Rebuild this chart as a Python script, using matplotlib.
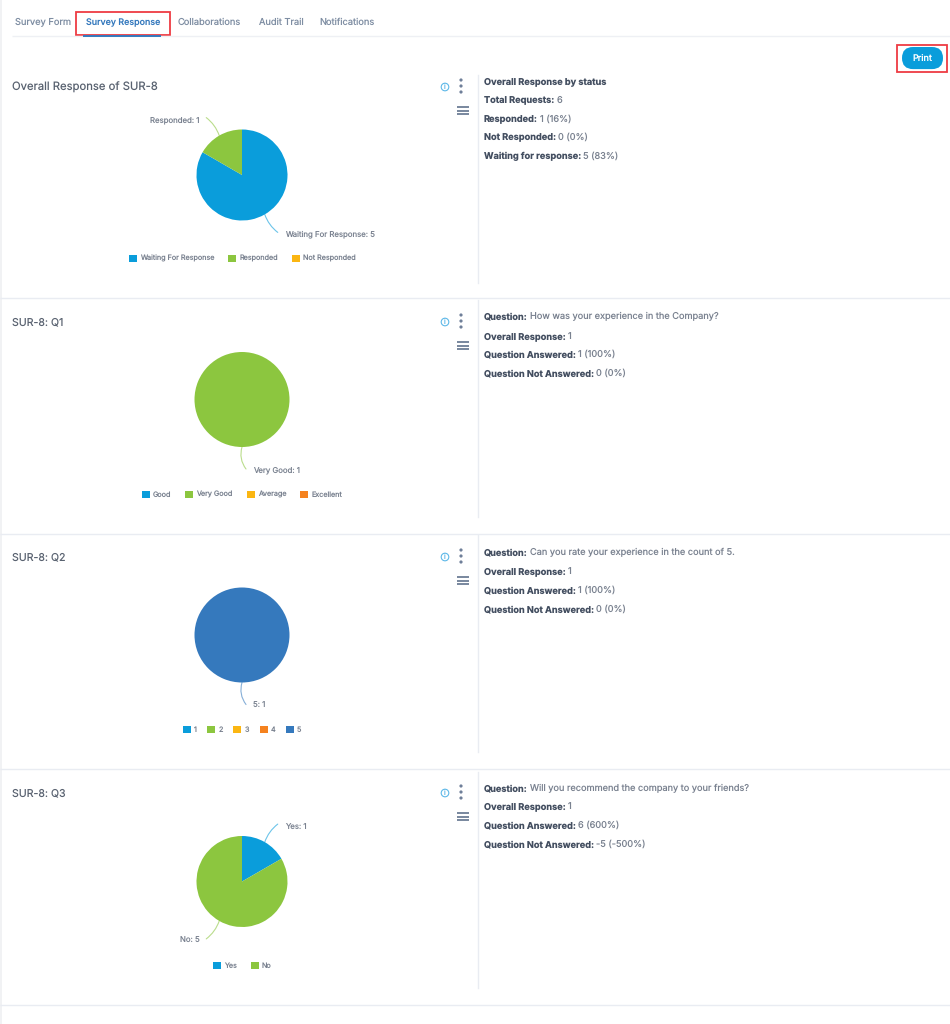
import matplotlib
matplotlib.use('Agg')
import matplotlib.pyplot as plt
import numpy as np
from matplotlib.patches import Rectangle, Circle, FancyBboxPatch

plt.rcParams['font.family'] = ['Inter', 'DejaVu Sans']
plt.rcParams['text.hinting'] = 'no_hinting'
plt.rcParams['text.hinting_factor'] = 1

W, H = 950, 1024
PX = 0.72  # one pixel in points at dpi 100

BLUE = '#0a9ddb'
GREEN = '#8cc63f'
YELLOW = '#fbb612'
ORANGE = '#f5821f'
STEEL = '#3579bd'
RED = '#ee3b43'
DARK = '#434e60'
GREY = '#7a8290'
TAB_GREY = '#7f8ea3'
LINE = '#e9ecf2'

tabs = ['Survey Form', 'Survey Response', 'Collaborations', 'Audit Trail', 'Notifications']
tab_x = [15, 86, 178, 259, 319]

titles = ['Overall Response of SUR-8', 'SUR-8: Q1', 'SUR-8: Q2', 'SUR-8: Q3']

overall_labels = ['Waiting For Response', 'Responded', 'Not Responded']
overall_values = [5, 1, 0]
q1_labels = ['Good', 'Very Good', 'Average', 'Excellent']
q1_values = [0, 1, 0, 0]
q2_labels = ['1', '2', '3', '4', '5']
q2_values = [0, 0, 0, 0, 1]
q3_labels = ['Yes', 'No']
q3_values = [1, 5]

overall_stats = [('Overall Response by status', ''), ('Total Requests:', '6'), ('Responded:', '1 (16%)'),
                 ('Not Responded:', '0 (0%)'), ('Waiting for response:', '5 (83%)')]
q1_stats = [('Question:', 'How was your experience in the Company?'), ('Overall Response:', '1'),
            ('Question Answered:', '1 (100%)'), ('Question Not Answered:', '0 (0%)')]
q2_stats = [('Question:', 'Can you rate your experience in the count of 5.'), ('Overall Response:', '1'),
            ('Question Answered:', '1 (100%)'), ('Question Not Answered:', '0 (0%)')]
q3_stats = [('Question:', 'Will you recommend the company to your friends?'), ('Overall Response:', '1'),
            ('Question Answered:', '6 (600%)'), ('Question Not Answered:', '-5 (-500%)')]

palette = [BLUE, GREEN, YELLOW, ORANGE, STEEL]

fig = plt.figure(figsize=(W / 100, H / 100), dpi=100)
canvas = fig.add_axes([0, 0, 1, 1])
canvas.set_xlim(0, W)
canvas.set_ylim(H, 0)
canvas.axis('off')


def hline(y, x0=0, x1=W, color=LINE, lw=1.0):
    canvas.plot([x0, x1], [y, y], color=color, lw=lw * PX * 1.4, solid_capstyle='butt')


def stat_row(x, y, bold, regular):
    t = canvas.text(x, y, bold, fontsize=9.2 * PX, fontweight='bold', color=DARK, va='baseline')
    if regular:
        box = t.get_window_extent(fig.canvas.get_renderer())
        canvas.text(box.x1 + 2.5, y, regular, fontsize=9.2 * PX, color=GREY, va='baseline')


def draw_icons(y):
    canvas.add_patch(Circle((445, y), 3.8, fill=False, ec='#5db8e8', lw=0.8))
    canvas.text(445, y, 'i', fontsize=5, color='#5db8e8', ha='center', va='center')
    for dy in [-6, 0, 6]:
        canvas.add_patch(Circle((461, y - 1 + dy), 1.6, color='#6f7f99', lw=0))
    for dy in [19, 22.5, 26]:
        canvas.add_patch(Rectangle((457, y + dy), 11.5, 2.3, color='#7b8aa0', lw=0))


def draw_pie(cx, cy, r, labels, values, legend_y, gap):
    ax = fig.add_axes([(cx - r) / W, 1 - (cy + r) / H, 2 * r / W, 2 * r / H])
    colors = palette[:len(values)]
    wedges, _ = ax.pie(values, colors=colors, startangle=90, counterclock=False, radius=1)
    ax.set_xlim(-1, 1)
    ax.set_ylim(-1, 1)
    total = sum(values)
    start = 0
    for lab, val, col in zip(labels, values, colors):
        if val == 0:
            continue
        mid = np.radians((start + val / 2) / total * 360)
        start += val
        sx, sy = np.sin(mid), np.cos(mid)
        if val == total:
            # single slice: leader drops almost straight down
            side, up, dx, dy, text_dx = 1, -1, 4, 22, 11
            rad = -0.25
        else:
            side = 1 if sx > 0 else -1
            up = 1 if sy > 0 else -1
            dx, dy, text_dx = 13, 18, 20
            rad = 0.15 * side * up
        text_dy = 14 if up > 0 else -20
        if val == total:
            text_dy = -23
        ax.annotate('', xy=(sx, sy), xytext=(side * dx * PX, up * dy * PX), xycoords='data',
                    textcoords='offset points', annotation_clip=False,
                    arrowprops=dict(arrowstyle='-', color=col, alpha=0.6, lw=0.8,
                                    shrinkA=0, shrinkB=0, connectionstyle='arc3,rad=%.2f' % rad))
        ax.annotate('%s: %d' % (lab, val), xy=(sx, sy), xycoords='data',
                    xytext=(side * text_dx * PX, text_dy * PX),
                    textcoords='offset points', fontsize=7.8 * PX, color=GREY,
                    ha='left' if side > 0 else 'right', va='center', annotation_clip=False)
    leg = ax.legend(wedges, labels, ncol=len(labels), loc='center', bbox_to_anchor=(cx, legend_y),
                    bbox_transform=canvas.transData, frameon=False, fontsize=7.2 * PX,
                    handlelength=1.1, handleheight=1.1, handletextpad=0.42,
                    columnspacing=gap, labelcolor=GREY, borderpad=0, borderaxespad=0)
    return leg


# page chrome
canvas.add_patch(Rectangle((0, 0), 2, H, color='#f1f2f4', lw=0))
hline(36, 12, W, color='#eef0f4')
for name, x in zip(tabs, tab_x):
    active = name == 'Survey Response'
    canvas.text(x, 25, name, fontsize=(8.9 if active else 9.3) * PX, color='#3579bd' if active else TAB_GREY,
                fontweight='medium' if active else 'normal', va='baseline')
hline(35.5, 83, 161, color='#3579bd', lw=1.4)
canvas.add_patch(Rectangle((75.5, 11.5), 94, 23, fill=False, ec=RED, lw=1.3))
canvas.add_patch(FancyBboxPatch((902 + 11, 47 + 11), 41 - 22, 0.1, boxstyle='round,pad=11,rounding_size=11',
                                fc=BLUE, ec='none'))
canvas.text(922.5, 58.5, 'Print', fontsize=9 * PX, color='white', fontweight='medium', ha='center', va='center')
canvas.add_patch(Rectangle((897, 44.5), 50, 27.5, fill=False, ec=RED, lw=1.3))

for y in [298, 534, 769, 1005]:
    hline(y)
for y0, y1 in [(75, 283), (300, 517), (535, 752), (772, 988)]:
    canvas.plot([477.5, 477.5], [y0, y1], color=LINE, lw=1.0)

title_y = [87, 322, 557, 793]
title_size = [11.3, 10.6, 10.6, 10.6]
for title, y, size in zip(titles, title_y, title_size):
    canvas.text(12, y, title, fontsize=size * PX, color='#596270', va='center')
    draw_icons(y)

draw_pie(242, 175, 45.5, overall_labels, overall_values, 258.5, 1.95)
draw_pie(242, 399.5, 47.5, q1_labels, q1_values, 494.5, 1.95)
draw_pie(242, 635, 47.5, q2_labels, q2_values, 730, 1.5)
draw_pie(242, 881.5, 45.5, q3_labels, q3_values, 965.5, 1.95)

rows = [(overall_stats, [84, 103, 122, 140, 159]), (q1_stats, [319, 339, 357, 376]),
        (q2_stats, [555, 574, 593, 612]), (q3_stats, [791, 809, 828, 847])]
for stats, ys in rows:
    for (bold, regular), y in zip(stats, ys):
        stat_row(483.5, y, bold, regular)

fig.savefig('out.png', dpi=100, facecolor='white')
